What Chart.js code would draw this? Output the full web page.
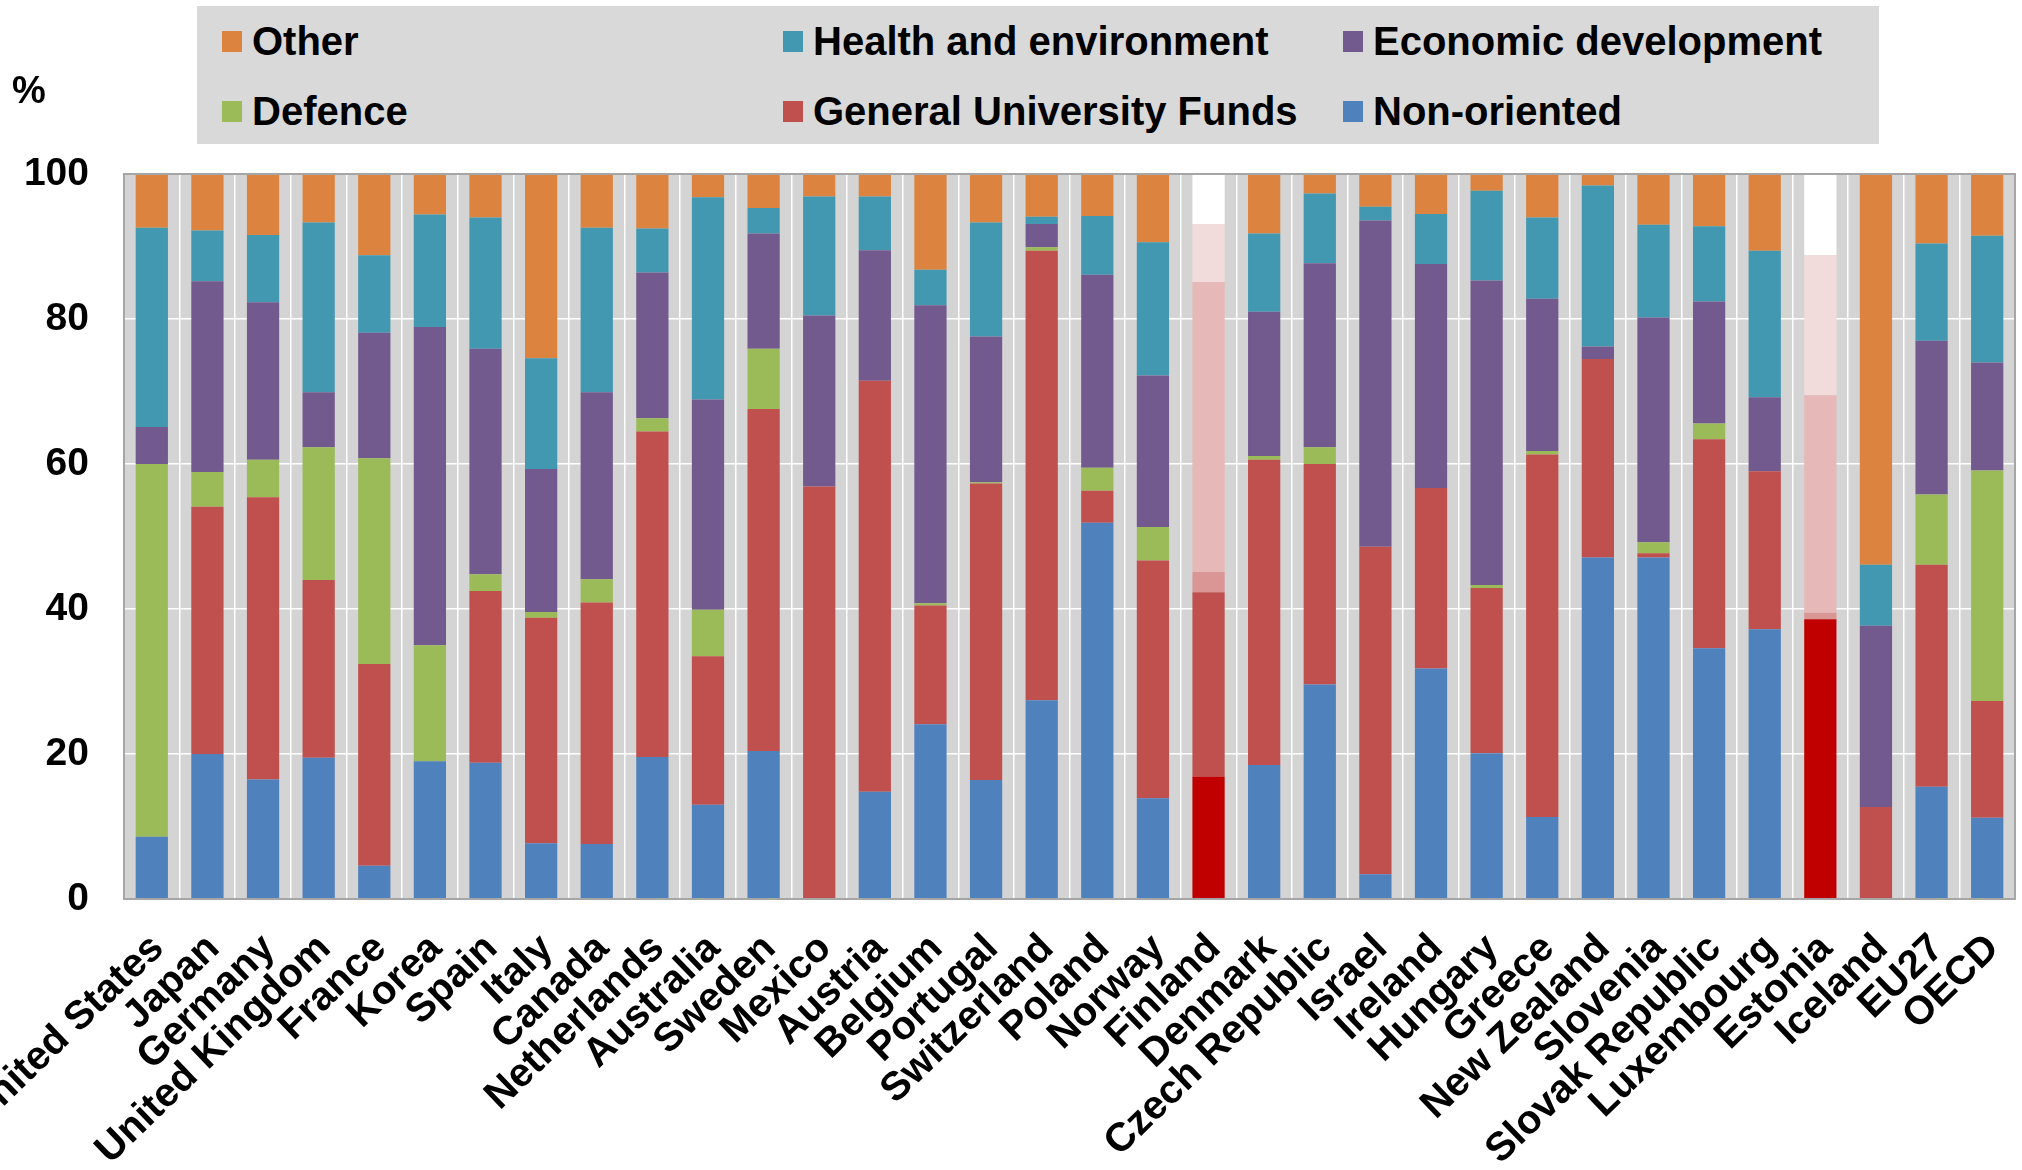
<!DOCTYPE html>
<html>
<head>
<meta charset="utf-8">
<title>Government R&amp;D budgets by socio-economic objective</title>
<script src="https://cdn.jsdelivr.net/npm/chart.js@4.4.0/dist/chart.umd.min.js"></script>
<style>
    body { margin: 0; background: #fff; font-family: "Liberation Sans", Arial, sans-serif; }
    .wrap { position: relative; width: 2022px; height: 1170px; }
    #legend {
        position: absolute; left: 197px; top: 6px; width: 1682px; height: 138px;
        background: #d9d9d9; box-sizing: border-box; padding-left: 25px;
        display: grid; grid-template-columns: 561px 560px auto; grid-template-rows: 70px 70px;
    }
    .item { display: flex; align-items: center; font-weight: bold; font-size: 40px; color: #000; }
    .box { width: 20px; height: 21px; margin-right: 10px; }
</style>
</head>
<body>
<div class="wrap">
    <canvas id="chart" width="2022" height="1170"></canvas>
    <div id="legend"></div>
</div>
<script>
const countries = ['United States', 'Japan', 'Germany', 'United Kingdom', 'France', 'Korea', 'Spain', 'Italy',
    'Canada', 'Netherlands', 'Australia', 'Sweden', 'Mexico', 'Austria', 'Belgium', 'Portugal', 'Switzerland',
    'Poland', 'Norway', 'Finland', 'Denmark', 'Czech Republic', 'Israel', 'Ireland', 'Hungary', 'Greece',
    'New Zealand', 'Slovenia', 'Slovak Republic', 'Luxembourg', 'Estonia', 'Iceland', 'EU27', 'OECD'];

// shares in %, bottom of the stack first
const nonOriented = [8.6, 20.0, 16.5, 19.5, 4.6, 19.0, 18.8, 7.7, 7.6, 19.6, 13.0, 20.4, 0, 14.8, 24.1, 16.4, 27.4,
    51.9, 13.9, 16.9, 18.5, 29.6, 3.4, 31.8, 20.1, 11.3, 47.1, 47.1, 34.6, 37.2, 38.6, 0, 15.5, 11.2];
const univFunds = [0, 34.1, 38.9, 24.5, 27.8, 0, 23.7, 31.1, 33.3, 44.9, 20.5, 47.2, 56.9, 56.7, 16.4, 40.9, 62.0,
    4.4, 32.8, 25.4, 42.1, 30.4, 45.2, 24.9, 22.8, 50.0, 27.4, 0.6, 28.8, 21.8, 0, 12.7, 30.6, 16.1];
const defence = [51.4, 4.8, 5.2, 18.3, 28.4, 16.0, 2.3, 0.8, 3.2, 1.8, 6.4, 8.3, 0, 0, 0.3, 0.2, 0.5,
    3.2, 4.6, 2.8, 0.5, 2.3, 0, 0, 0.4, 0.5, 0, 1.5, 2.2, 0, 0.9, 0, 9.7, 31.8];
const econDev = [5.1, 26.3, 21.7, 7.6, 17.3, 43.9, 31.1, 19.7, 25.8, 20.1, 29.0, 15.9, 23.6, 18.0, 41.1, 20.1, 3.2,
    26.6, 20.9, 40.0, 19.9, 25.4, 45.0, 30.9, 42.0, 21.0, 1.7, 31.0, 16.8, 10.2, 30.0, 25.0, 21.2, 14.9];
const healthEnv = [27.5, 7.0, 9.3, 23.4, 10.7, 15.5, 18.1, 15.3, 22.7, 6.1, 27.9, 3.5, 16.4, 7.4, 4.9, 15.7, 1.0,
    8.1, 18.4, 8.0, 10.8, 9.6, 1.9, 6.9, 12.4, 11.2, 22.2, 12.8, 10.4, 20.2, 19.3, 8.4, 13.4, 17.5];
const other = [7.4, 7.8, 8.4, 6.7, 11.2, 5.6, 6.0, 25.4, 7.4, 7.5, 3.2, 4.7, 3.1, 3.1, 13.2, 6.7, 5.9,
    5.8, 9.4, 6.9, 8.2, 2.7, 4.5, 5.5, 2.3, 6.0, 1.6, 7.0, 7.2, 10.6, 11.2, 53.9, 9.6, 8.5];

const yTicks = [0, 20, 40, 60, 80, 100];
const highlighted = ['Finland', 'Estonia'];

function barColors(normal, faded) {
    return countries.map(c => highlighted.includes(c) ? faded : normal);
}

function makeSet(label, data, color, faded) {
    return {
        label: label,
        data: data,
        backgroundColor: barColors(color, faded),
        legendColor: color,
        borderWidth: 0,
        barPercentage: 0.58,
        categoryPercentage: 1.0
    };
}

const plotFrame = {
    id: 'plotFrame',
    beforeDraw(chart) {
        const { ctx, chartArea: a } = chart;
        ctx.save();
        ctx.fillStyle = '#d4d4d4';
        ctx.fillRect(a.left, a.top, a.right - a.left, a.bottom - a.top);
        ctx.restore();
    },
    afterDatasetsDraw(chart) {
        const { ctx, chartArea: a } = chart;
        ctx.save();
        ctx.strokeStyle = '#a6a6a6';
        ctx.lineWidth = 2;
        ctx.strokeRect(a.left, a.top, a.right - a.left, a.bottom - a.top);
        ctx.fillStyle = '#000';
        ctx.font = 'bold 38px "Liberation Sans", Arial, sans-serif';
        ctx.textBaseline = 'middle';
        ctx.fillText('%', 12, 93);
        ctx.restore();
    }
};

const config = {
    type: 'bar',
    data: {
        labels: countries,
        datasets: [
            makeSet('Non-oriented', nonOriented, '#4f81bd', '#c00000'),
            makeSet('General University Funds', univFunds, '#c0504d', '#c0504d'),
            makeSet('Defence', defence, '#9bbb59', '#da9694'),
            makeSet('Economic development', econDev, '#725a8f', '#e6b8b7'),
            makeSet('Health and environment', healthEnv, '#4298b0', '#f2dcdb'),
            makeSet('Other', other, '#dc843f', '#ffffff')
        ]
    },
    options: {
        responsive: false,
        animation: false,
        layout: { padding: { top: 174, right: 7, bottom: 0, left: 0 } },
        plugins: { legend: { display: false }, tooltip: { enabled: false } },
        scales: {
            x: {
                stacked: true,
                grid: { color: '#ffffff', lineWidth: 1.5, drawTicks: false },
                border: { display: false },
                ticks: {
                    autoSkip: false, minRotation: 44, maxRotation: 44, padding: 26, labelOffset: 6,
                    color: '#000', font: { family: '"Liberation Sans", Arial, sans-serif', size: 40, weight: 'bold' }
                },
                afterFit(scale) {
                    scale.height = 271;
                    scale.paddingLeft = 0;
                    scale.paddingRight = 0;
                }
            },
            y: {
                stacked: true,
                min: 0,
                max: 100,
                grid: { color: '#ffffff', lineWidth: 1.5, drawTicks: false },
                border: { display: false },
                ticks: {
                    padding: 35, color: '#000',
                    font: { family: '"Liberation Sans", Arial, sans-serif', size: 39, weight: 'bold' }
                },
                afterBuildTicks(scale) {
                    scale.ticks = yTicks.map(v => ({ value: v }));
                },
                afterFit(scale) {
                    scale.width = 124;
                }
            }
        }
    },
    plugins: [plotFrame]
};

const myChart = new Chart(document.getElementById('chart'), config);

// legend: top of the stack first, three per row
let str = '';
myChart.data.datasets.slice().reverse().forEach(ds => {
    str += `<div class="item"><span class="box" style="background:${ds.legendColor}"></span>${ds.label}</div>`;
});
document.getElementById('legend').innerHTML = str;
</script>
</body>
</html>
